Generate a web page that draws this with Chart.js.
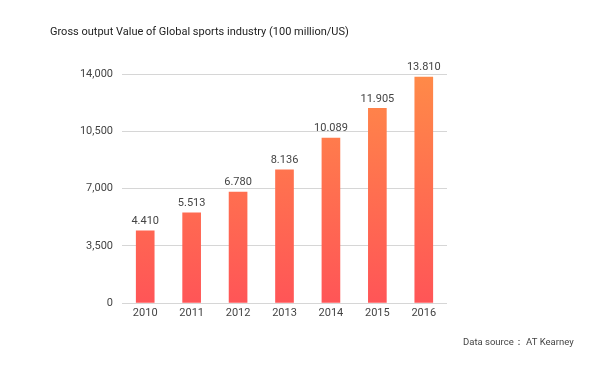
<!DOCTYPE html>
<html>
<head>
<meta charset="utf-8">
<script src="https://cdn.jsdelivr.net/npm/chart.js@4"></script>
<style>
  html, body { margin: 0; padding: 0; background: #fff; }
  #wrap { width: 603px; height: 369px; position: relative; }
</style>
</head>
<body>
<div id="wrap"><canvas id="outputChart"></canvas></div>
<script>
// data
const years = ['2010', '2011', '2012', '2013', '2014', '2015', '2016'];
const outputValues = [4410, 5513, 6780, 8136, 10089, 11905, 13810];
const yTicks = [0, 3500, 7000, 10500, 14000];

const titleText = 'Gross output Value of Global sports industry (100 million/US)';
const sourceText = 'Data source： AT Kearney';

const fontFamily = 'Roboto, "Noto Sans", sans-serif';

// labels above bars use a dot as thousands separator, like the original
function dotFormat(v) {
    return String(v).replace(/\B(?=(\d{3})+(?!\d))/g, '.');
}

// gradient over the whole chart area (short bars stay red, tall ones get orange)
function barGradient(context) {
    const chart = context.chart;
    const area = chart.chartArea;
    if (!area) return '#ff6a50';
    const g = chart.ctx.createLinearGradient(0, area.bottom, 0, area.top);
    g.addColorStop(0, '#ff5557');
    g.addColorStop(1, '#ff8a48');
    return g;
}

const extrasPlugin = {
    id: 'extras',
    afterDatasetsDraw(chart) {
        const ctx = chart.ctx;
        const meta = chart.getDatasetMeta(0);
        ctx.save();
        ctx.fillStyle = '#444';
        ctx.font = '11px ' + fontFamily;
        ctx.textAlign = 'center';
        ctx.textBaseline = 'bottom';
        meta.data.forEach((bar, i) => {
            ctx.fillText(dotFormat(outputValues[i]), bar.x, bar.y - 4);
        });

        ctx.fillStyle = '#222';
        ctx.font = '11px ' + fontFamily;
        ctx.textAlign = 'left';
        ctx.textBaseline = 'middle';
        ctx.fillText(titleText, 50, 32);

        ctx.fillStyle = '#444';
        ctx.font = '9.5px ' + fontFamily;
        ctx.fillText(sourceText, 463, 343);
        ctx.restore();
    }
};

new Chart(document.getElementById('outputChart'), {
    type: 'bar',
    data: {
        labels: years,
        datasets: [{
            data: outputValues,
            backgroundColor: barGradient,
            barThickness: 18
        }]
    },
    options: {
        responsive: true,
        maintainAspectRatio: false,
        animation: false,
        layout: { padding: { top: 74, right: 156, bottom: 0, left: 0 } },
        plugins: {
            legend: { display: false },
            tooltip: { enabled: false }
        },
        scales: {
            x: {
                grid: { display: false, drawTicks: false },
                border: { display: false },
                ticks: { color: '#444', font: { family: fontFamily, size: 11 }, padding: 4 },
                afterFit(scale) { scale.height = 66; }
            },
            y: {
                min: 0,
                max: 14000,
                afterBuildTicks(scale) { scale.ticks = yTicks.map(v => ({ value: v })); },
                grid: { color: '#d6d6d6', drawTicks: false },
                border: { display: false },
                ticks: {
                    color: '#444',
                    font: { family: fontFamily, size: 11 },
                    padding: 9,
                    callback: v => v.toLocaleString('en-US')
                },
                afterFit(scale) { scale.width = 122; }
            }
        }
    },
    plugins: [extrasPlugin]
});
</script>
</body>
</html>
